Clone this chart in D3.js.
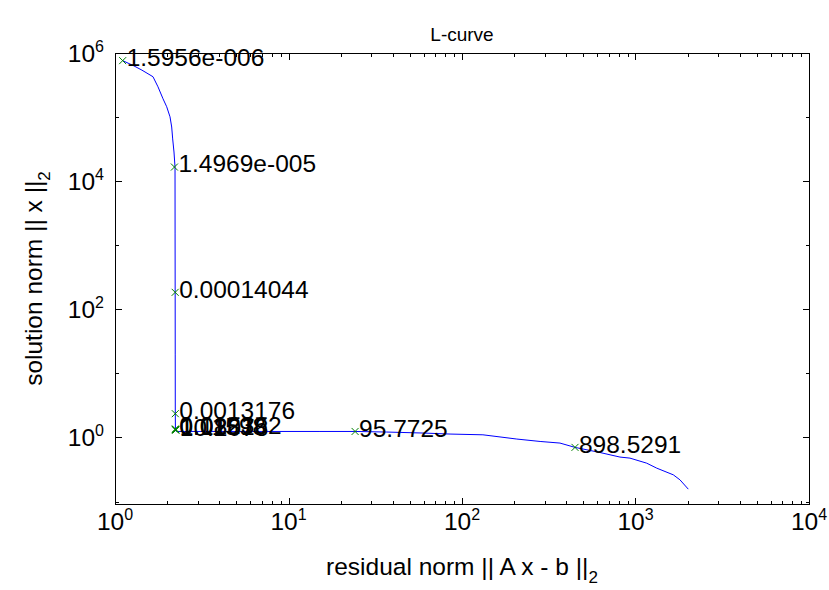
<!DOCTYPE html>
<html>
<head>
<meta charset="utf-8">
<script src="https://cdn.jsdelivr.net/npm/d3@7"></script>
<style>
  body { margin: 0; background: #fff; }
  text { font-family: "Liberation Sans", Arial, Helvetica, sans-serif; fill: #000; }
</style>
</head>
<body>
<script>
// L-curve: residual norm (rho) against solution norm (eta)
const rho = [1.107, 1.27, 1.43, 1.656, 1.769, 1.891, 1.986, 2.075, 2.122, 2.15, 2.188, 2.218,
  2.22, 2.222, 2.224, 2.226, 2.23, 2.24, 2.26, 3.5, 8, 15, 24.2, 36.8, 59.6, 85.3, 132,
  207, 282, 367, 448, 624, 814, 929, 1160, 1325, 1652, 1804, 2015];
const eta = [7.6e5, 6.4e5, 5.4e5, 4.26e5, 2.97e5, 1.93e5, 1.45e5, 1.01e5, 7.0e4, 4.56e4, 2.85e4, 1.66e4,
  1500, 184, 20, 2.35, 1.35, 1.26, 1.24, 1.24, 1.24, 1.24, 1.24, 1.215, 1.172, 1.13, 1.10,
  0.944, 0.866, 0.817, 0.70, 0.582, 0.494, 0.476, 0.397, 0.332, 0.261, 0.218, 0.156];

// regularization parameters marked on the curve
const markRho = [1.107, 2.2, 2.222, 2.226, 2.228, 2.232, 2.236, 2.24, 24.2, 448];
const markEta = [7.6e5, 1.66e4, 184, 2.35, 1.36, 1.33, 1.31, 1.3, 1.24, 0.70];
const markLabels = ["1.5956e-006", "1.4969e-005", "0.00014044", "0.0013176",
  "0.012362", "0.11598", "1.0881", "10.2078", "95.7725", "898.5291"];

const xDecades = [0, 1, 2, 3, 4];
const yDecades = [0, 2, 4, 6];
const yMinor = [-1, 1, 3, 5];

const W = 829, H = 590;
const svg = d3.select("body").append("svg")
  .attr("width", W)
  .attr("height", H);

const pL = 115, pR = 809, pT = 53, pB = 504;

const x = d3.scaleLog().domain([1, 1e4]).range([pL, pR]);
const y = d3.scaleLog().domain([0.0915, 1e6]).range([pB, pT]);

// frame
svg.append("rect")
  .attr("x", pL + 0.5).attr("y", pT + 0.5)
  .attr("width", pR - pL).attr("height", pB - pT)
  .attr("fill", "none").attr("stroke", "#000").attr("stroke-width", 1);

// ticks on all four sides, pointing in
let xMinor = [];
xDecades.slice(0, -1).forEach(d => {
  for (let k = 2; k <= 9; k++) xMinor.push(k * Math.pow(10, d));
});
const tickG = svg.append("g").attr("stroke", "#000").attr("stroke-width", 1);
xDecades.forEach(d => {
  const px = Math.round(x(Math.pow(10, d))) + 0.5;
  tickG.append("line").attr("x1", px).attr("x2", px).attr("y1", pB).attr("y2", pB - 6);
  tickG.append("line").attr("x1", px).attr("x2", px).attr("y1", pT + 1).attr("y2", pT + 7);
});
xMinor.forEach(v => {
  const px = Math.round(x(v)) + 0.5;
  tickG.append("line").attr("x1", px).attr("x2", px).attr("y1", pB).attr("y2", pB - 3);
  tickG.append("line").attr("x1", px).attr("x2", px).attr("y1", pT + 1).attr("y2", pT + 4);
});
yDecades.forEach(d => {
  const py = Math.round(y(Math.pow(10, d))) + 0.5;
  tickG.append("line").attr("x1", pL + 1).attr("x2", pL + 7).attr("y1", py).attr("y2", py);
  tickG.append("line").attr("x1", pR).attr("x2", pR - 6).attr("y1", py).attr("y2", py);
});
yMinor.forEach(d => {
  const py = Math.round(y(Math.pow(10, d))) + 0.5;
  tickG.append("line").attr("x1", pL + 1).attr("x2", pL + 4).attr("y1", py).attr("y2", py);
  tickG.append("line").attr("x1", pR).attr("x2", pR - 3).attr("y1", py).attr("y2", py);
});

// tick labels
xDecades.forEach(d => {
  const t = svg.append("text")
    .attr("x", x(Math.pow(10, d)))
    .attr("y", pB + 26)
    .attr("text-anchor", "middle")
    .style("font-size", "24.5px");
  t.append("tspan").text("10");
  t.append("tspan").attr("dy", -10).style("font-size", "16px").text(d);
});
yDecades.forEach(d => {
  const t = svg.append("text")
    .attr("x", 104)
    .attr("y", y(Math.pow(10, d)) + 9)
    .attr("text-anchor", "end")
    .style("font-size", "24.5px");
  t.append("tspan").text("10");
  t.append("tspan").attr("dy", -10).style("font-size", "16px").text(d);
});

// curve
const line = d3.line().x((d, i) => x(rho[i])).y((d, i) => y(eta[i]));
svg.append("path")
  .datum(rho)
  .attr("d", line)
  .attr("fill", "none")
  .attr("stroke", "#0000ff")
  .attr("stroke-width", 1);

// markers + parameter labels (overlap near the corner, as in the original)
const marks = svg.append("g");
markRho.forEach((r, i) => {
  const mx = x(r), my = y(markEta[i]), s = 3.5;
  marks.append("path")
    .attr("d", `M${mx - s},${my - s}L${mx + s},${my + s}M${mx - s},${my + s}L${mx + s},${my - s}`)
    .attr("stroke", "#008000").attr("stroke-width", 1).attr("fill", "none");
  marks.append("text")
    .attr("x", mx + 4)
    .attr("y", my)
    .attr("dy", "0.22em")
    .style("font-size", "24.5px")
    .text(markLabels[i]);
});

// labels
svg.append("text")
  .attr("x", (pL + pR) / 2)
  .attr("y", pT - 12)
  .attr("text-anchor", "middle")
  .style("font-size", "19px")
  .text("L-curve");

const xl = svg.append("text")
  .attr("x", (pL + pR) / 2)
  .attr("y", 575)
  .attr("text-anchor", "middle")
  .style("font-size", "24.5px");
xl.append("tspan").text("residual norm || A x - b ||");
xl.append("tspan").attr("dy", 8).style("font-size", "17px").text("2");

const yl = svg.append("text")
  .attr("transform", `translate(42,${(pT + pB) / 2}) rotate(-90)`)
  .attr("text-anchor", "middle")
  .style("font-size", "24.5px");
yl.append("tspan").text("solution norm || x ||");
yl.append("tspan").attr("dy", 8).style("font-size", "17px").text("2");
</script>
</body>
</html>
